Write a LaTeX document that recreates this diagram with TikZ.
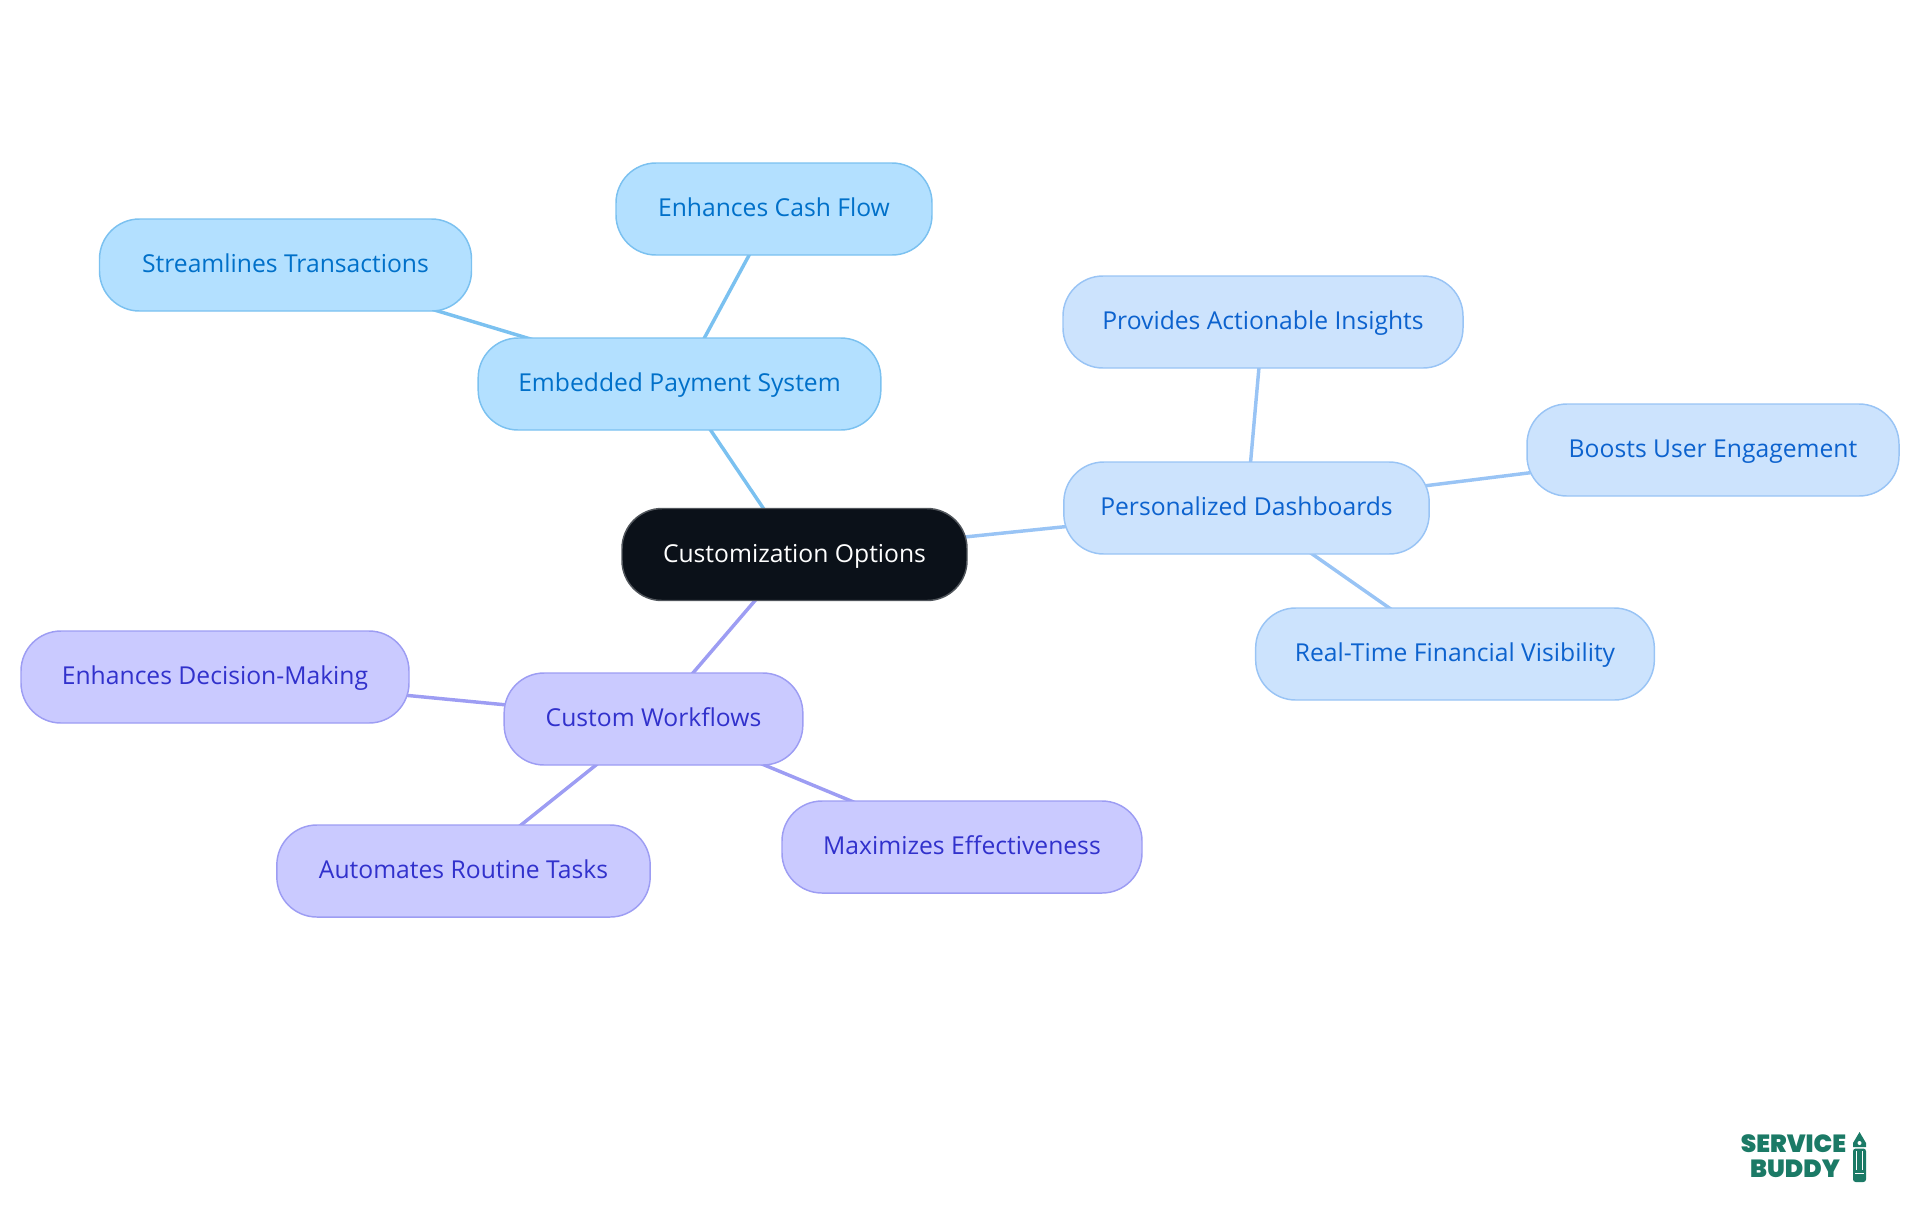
\documentclass[tikz,border=0pt]{standalone}
\usepackage{fontspec}
\setmainfont{Open Sans}
\newfontfamily\logofont{Poppins}[BoldFont={* Black}]
\usepackage{xcolor}
\usetikzlibrary{backgrounds}
\definecolor{rootfill}{HTML}{0B1119}
\definecolor{rootline}{HTML}{50555B}
\definecolor{payfill}{HTML}{B3E0FF}
\definecolor{payline}{HTML}{7BC1F0}
\definecolor{paytext}{HTML}{0070C9}
\definecolor{dashfill}{HTML}{CCE3FD}
\definecolor{dashline}{HTML}{99C4F5}
\definecolor{dashtext}{HTML}{0C62CE}
\definecolor{flowfill}{HTML}{CACAFF}
\definecolor{flowline}{HTML}{9D9DF3}
\definecolor{flowtext}{HTML}{3131CC}
\definecolor{logogreen}{HTML}{1B7A66}
\tikzset{
  mapnode/.style={draw, line width=1.1pt, rounded corners=30pt, inner sep=0pt,
    minimum height=69pt, text height=14pt, text depth=2.4pt,
    font=\fontsize{18.5}{22}\selectfont},
  rootnode/.style={mapnode, fill=rootfill, draw=rootline, text=white},
  paynode/.style={mapnode, fill=payfill, draw=payline, text=paytext},
  dashnode/.style={mapnode, fill=dashfill, draw=dashline, text=dashtext},
  flownode/.style={mapnode, fill=flowfill, draw=flowline, text=flowtext},
  mapedge/.style={line width=2.6pt},
  logotext/.style={inner sep=0pt, text=logogreen, font=\logofont\bfseries\fontsize{18.6}{21}\selectfont}
}
\begin{document}
\begin{tikzpicture}[x=0.75pt,y=-0.75pt]
  \useasboundingbox (0,0) rectangle (1920,1215);
  \node[rootnode, minimum width=258.75pt] (custom) at (794.5,554.5) {Customization Options};
  \node[paynode, minimum width=302pt] (pay) at (679.5,384) {Embedded Payment System};
  \node[paynode, minimum width=237pt] (cash) at (774,209) {Enhances Cash Flow};
  \node[paynode, minimum width=279pt] (trans) at (285.5,265) {Streamlines Transactions};
  \node[dashnode, minimum width=274pt] (dash) at (1246.5,508) {Personalized Dashboards};
  \node[dashnode, minimum width=300pt] (insight) at (1263,322) {Provides Actionable Insights};
  \node[dashnode, minimum width=279pt] (engage) at (1713,450) {Boosts User Engagement};
  \node[dashnode, minimum width=299pt] (visible) at (1455,654) {Real-Time Financial Visibility};
  \node[flownode, minimum width=224pt] (flow) at (653.5,719) {Custom Workflows};
  \node[flownode, minimum width=291pt] (decide) at (215,677) {Enhances Decision-Making};
  \node[flownode, minimum width=280pt] (auto) at (463.5,871) {Automates Routine Tasks};
  \node[flownode, minimum width=270pt] (effect) at (962,847) {Maximizes Effectiveness};
  \begin{scope}[on background layer]
    \draw[mapedge, payline] (custom.center) -- (pay.center);
    \draw[mapedge, payline] (pay.center) -- (cash.center);
    \draw[mapedge, payline] (pay.center) -- (trans.center);
    \draw[mapedge, dashline] (custom.center) -- (dash.center);
    \draw[mapedge, dashline] (dash.center) -- (insight.center);
    \draw[mapedge, dashline] (dash.center) -- (engage.center);
    \draw[mapedge, dashline] (dash.center) -- (visible.center);
    \draw[mapedge, flowline] (custom.center) -- (flow.center);
    \draw[mapedge, flowline] (flow.center) -- (decide.center);
    \draw[mapedge, flowline] (flow.center) -- (auto.center);
    \draw[mapedge, flowline] (flow.center) -- (effect.center);
  \end{scope}
  % logo
  \node[logotext] (service) at (1793.5,1144) {SERVICE};
  \node[logotext] (buddy) at (1795,1169) {BUDDY};
  \fill[logogreen] (1859.5,1132) -- (1866,1143) -- (1866,1147) -- (1853,1147) -- (1853,1143) -- cycle;
  \fill[logogreen, rounded corners=2pt] (1853,1148.5) -- (1866,1148.5) -- (1866,1182) -- (1853,1182) -- cycle;
  \fill[white] (1859.5,1143) circle (2);
  \draw[white, line width=0.7pt] (1856.5,1151) -- (1856.5,1170);
  \draw[white, line width=0.7pt] (1862.5,1151) -- (1862.5,1170);
  \draw[white, line width=0.7pt] (1855,1173) -- (1864,1173);
\end{tikzpicture}
\end{document}
